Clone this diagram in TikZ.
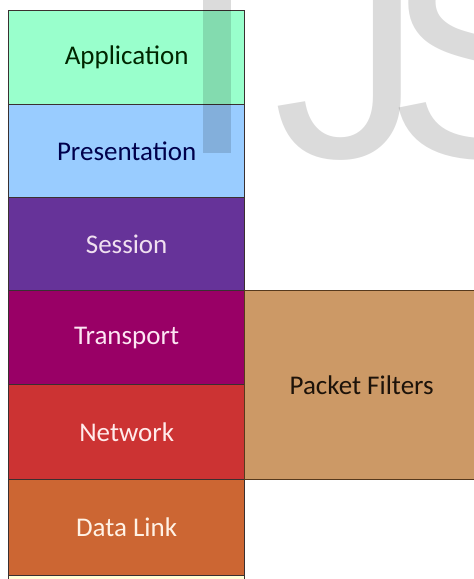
\documentclass[tikz,border=0pt]{standalone}
\usepackage{fontspec}
\newfontfamily\labelfont{Carlito}
\newfontfamily\wmfont{Liberation Sans}
\definecolor{appc}{HTML}{99FFCC}
\definecolor{prec}{HTML}{99CCFF}
\definecolor{sesc}{HTML}{663399}
\definecolor{trac}{HTML}{990066}
\definecolor{netc}{HTML}{CC3333}
\definecolor{dlkc}{HTML}{CC6633}
\definecolor{pfc}{HTML}{CC9966}
\definecolor{phyc}{HTML}{FFFFD8}
\definecolor{edgec}{HTML}{3A3030}
\tikzset{
  layer/.style={draw=edgec, line width=1.3pt, anchor=north west, inner sep=0pt,
    minimum width=236pt, font=\labelfont\fontsize{27}{30}\selectfont},
  wmark/.style={text=black, text opacity=0.14, anchor=base west, inner sep=0pt,
    font=\wmfont\fontsize{300}{300}\selectfont},
}
\begin{document}
\begin{tikzpicture}[x=1pt,y=-1pt]
\useasboundingbox (0,0) rectangle (474,579);
\clip (0,0) rectangle (474,579);
\fill[white] (0,0) rectangle (474,579);
\node[layer, fill=appc, text=black!85!green, minimum height=94pt] (app) at (8,10) {Application};
\node[layer, fill=prec, text=blue!30!black, minimum height=93pt] (pre) at (8,104) {Presentation};
\node[layer, fill=sesc, text=white!88!violet, minimum height=93pt] (ses) at (8,197) {Session};
\node[layer, fill=trac, text=white!90!magenta, minimum height=94pt] (tra) at (8,290) {Transport};
\node[layer, fill=netc, text=white!92!red, minimum height=95pt] (net) at (8,384) {Network};
\node[layer, fill=dlkc, text=white!90!orange, minimum height=96pt] (dlk) at (8,479) {Data Link};
\node[layer, fill=phyc, minimum height=96pt] (phy) at (8,575) {};
\node[layer, fill=pfc, draw=black!55!brown, text=black!85!brown, minimum width=234pt, minimum height=189pt] (pf) at (244,290) {Packet Filters};
% watermark
\fill[black, fill opacity=0.14] (203,-10) rectangle (231,153);
\node[wmark] (wmj) at (273,157) {J};
\node[wmark] (wms) at (385,157) {S};
\end{tikzpicture}
\end{document}
